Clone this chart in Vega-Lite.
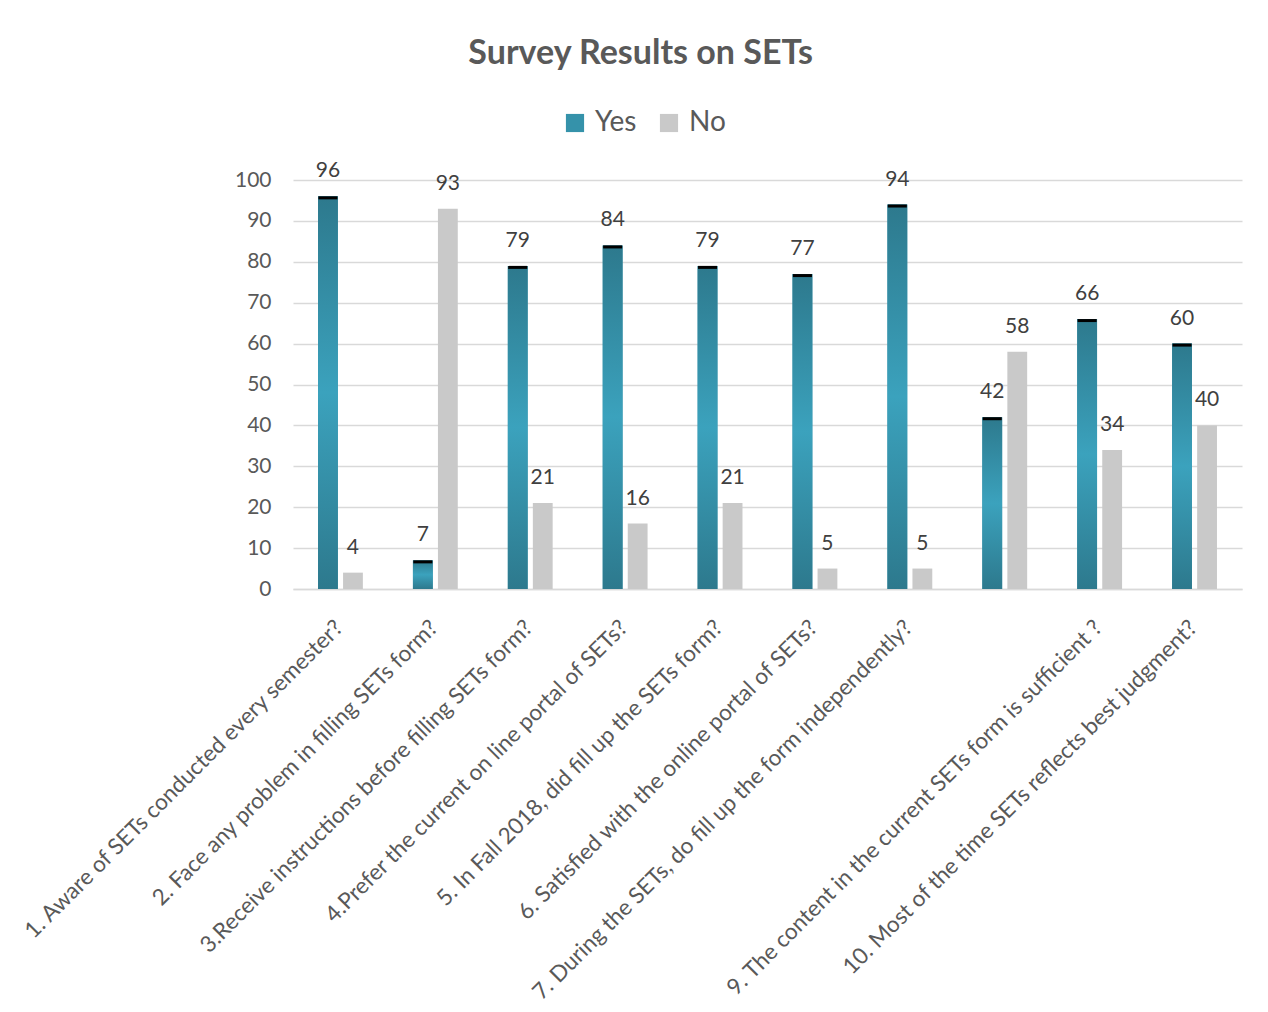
{
  "$schema": "https://vega.github.io/schema/vega-lite/v6.json",
  "autosize": {"type": "none"},
  "width": 949,
  "height": 409,
  "padding": {"left": 293, "top": 180, "right": 26, "bottom": 423},
  "background": "white",
  "config": {
    "view": {"stroke": null},
    "font": "Lato",
    "text": {"font": "Lato"}
  },
  "title": {
    "text": "Survey Results on SETs",
    "font": "Lato",
    "fontSize": 34,
    "fontWeight": "bold",
    "color": "#595959",
    "anchor": "middle",
    "frame": "bounds",
    "dy": -34,
    "dx": 10
  },
  "data": {
    "values": [
      {"q": "1. Aware of SETs conducted every semester?", "answer": "Yes", "pct": 96},
      {"q": "1. Aware of SETs conducted every semester?", "answer": "No", "pct": 4},
      {"q": "2. Face any problem in filling SETs form?", "answer": "Yes", "pct": 7},
      {"q": "2. Face any problem in filling SETs form?", "answer": "No", "pct": 93},
      {"q": "3.Receive instructions before filling SETs form?", "answer": "Yes", "pct": 79},
      {"q": "3.Receive instructions before filling SETs form?", "answer": "No", "pct": 21},
      {"q": "4.Prefer the current on line portal of SETs?", "answer": "Yes", "pct": 84},
      {"q": "4.Prefer the current on line portal of SETs?", "answer": "No", "pct": 16},
      {"q": "5. In Fall 2018, did fill up the SETs form?", "answer": "Yes", "pct": 79},
      {"q": "5. In Fall 2018, did fill up the SETs form?", "answer": "No", "pct": 21},
      {"q": "6. Satisfied with the online portal of SETs?", "answer": "Yes", "pct": 77},
      {"q": "6. Satisfied with the online portal of SETs?", "answer": "No", "pct": 5},
      {"q": "7. During the SETs, do fill up the form independently?", "answer": "Yes", "pct": 94},
      {"q": "7. During the SETs, do fill up the form independently?", "answer": "No", "pct": 5},
      {"q": "", "answer": "Yes", "pct": 42},
      {"q": "", "answer": "No", "pct": 58},
      {"q": "9. The content in the current SETs form is sufficient ?", "answer": "Yes", "pct": 66},
      {"q": "9. The content in the current SETs form is sufficient ?", "answer": "No", "pct": 34},
      {"q": "10. Most of the time SETs reflects  best judgment?", "answer": "Yes", "pct": 60},
      {"q": "10. Most of the time SETs reflects  best judgment?", "answer": "No", "pct": 40}
    ]
  },
  "encoding": {
    "x": {
      "field": "q",
      "type": "nominal",
      "sort": [
        "1. Aware of SETs conducted every semester?",
        "2. Face any problem in filling SETs form?",
        "3.Receive instructions before filling SETs form?",
        "4.Prefer the current on line portal of SETs?",
        "5. In Fall 2018, did fill up the SETs form?",
        "6. Satisfied with the online portal of SETs?",
        "7. During the SETs, do fill up the form independently?",
        "",
        "9. The content in the current SETs form is sufficient ?",
        "10. Most of the time SETs reflects  best judgment?"
      ],
      "scale": {"paddingInner": 0, "paddingOuter": 0},
      "axis": {
        "title": null,
        "labelAngle": -45,
        "labelAlign": "right",
        "labelBaseline": "top",
        "labelFont": "Lato",
        "labelFontSize": 22.5,
        "labelColor": "#595959",
        "labelLimit": 800,
        "labelPadding": 27,
        "labelOffset": -9,
        "ticks": false,
        "domainColor": "#d9d9d9",
        "domainWidth": 1.5,
        "grid": false
      }
    },
    "xOffset": {
      "field": "answer",
      "type": "nominal",
      "sort": ["Yes", "No"],
      "scale": {"paddingInner": 0.208, "paddingOuter": 1.08}
    },
    "y": {
      "field": "pct",
      "type": "quantitative",
      "scale": {"domain": [0, 100], "nice": false},
      "axis": {
        "title": null,
        "values": [0, 10, 20, 30, 40, 50, 60, 70, 80, 90, 100],
        "labelFont": "Lato",
        "labelFontSize": 21,
        "labelColor": "#595959",
        "labelPadding": 22,
        "ticks": false,
        "domain": false,
        "gridColor": "#d9d9d9",
        "gridWidth": 1.5
      }
    }
  },
  "layer": [
    {
      "mark": {"type": "bar"},
      "encoding": {
        "color": {
          "field": "answer",
          "type": "nominal",
          "sort": ["Yes", "No"],
          "scale": {"domain": ["Yes", "No"], "range": ["#3592AA", "#C9C9C9"]},
          "legend": {
            "title": null,
            "orient": "none",
            "direction": "horizontal",
            "legendX": 268,
            "legendY": -71,
            "symbolType": "square",
            "symbolSize": 330,
            "symbolStrokeWidth": 0,
            "labelFont": "Lato",
            "labelFontSize": 28,
            "labelColor": "#595959",
            "columnPadding": 18,
            "labelOffset": 6
          }
        }
      }
    },
    {
      "transform": [{"filter": "datum.answer === 'Yes'"}],
      "mark": {
        "type": "bar",
        "fill": {
          "gradient": "linear",
          "x1": 0, "y1": 0, "x2": 0, "y2": 1,
          "stops": [
            {"offset": 0, "color": "#2D798D"},
            {"offset": 0.5, "color": "#3BA2BD"},
            {"offset": 1, "color": "#2D798D"}
          ]
        }
      },
      "encoding": {}
    },
    {
      "transform": [{"filter": "datum.answer === 'Yes'"}],
      "mark": {"type": "tick", "color": "#000000", "thickness": 3, "size": 19, "yOffset": 1.5, "opacity": 1},
      "encoding": {}
    },
    {
      "mark": {"type": "text", "baseline": "middle", "dy": -25, "font": "Lato", "fontSize": 21, "color": "#404040"},
      "encoding": {"text": {"field": "pct", "type": "quantitative"}}
    }
  ]
}
